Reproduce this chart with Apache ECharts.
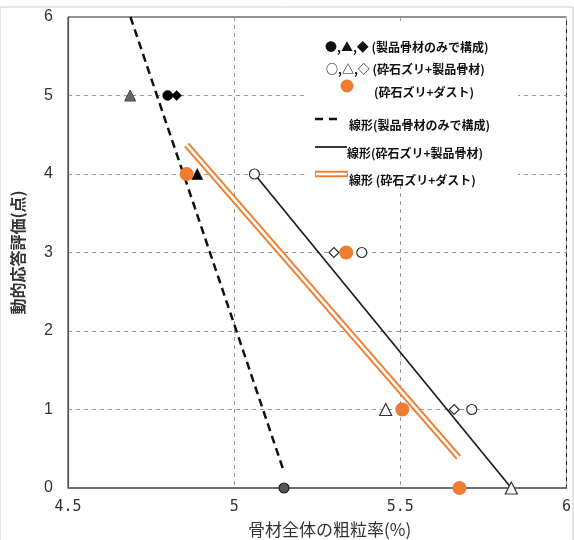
<!DOCTYPE html>
<html><head><meta charset="utf-8">
<script src="https://cdn.jsdelivr.net/npm/echarts@6/dist/echarts.min.js"></script>
<style>html,body{margin:0;padding:0;background:#fff}#c{width:574px;height:540px}</style>
</head><body><div id="c"></div>
<script>
// ---- data (x: 骨材全体の粗粒率 %, y: 動的応答評価 点) ----
const xTicks = [4.5, 5, 5.5, 6];
const yTicks = [0, 1, 2, 3, 4, 5, 6];
// 製品骨材のみで構成 (filled)
const prodCircle = [[4.80, 5]];
const prodDiamond = [[4.827, 5]];
const prodTriangle = [[4.889, 4]];
const prodTriangleGray = [[4.687, 5]];
const prodCircleGray = [[5.150, 0]];
// 砕石ズリ+製品骨材 (open)
const mixCircle = [[5.061, 4], [5.384, 3], [5.715, 1]];
const mixDiamond = [[5.300, 3], [5.662, 1]];
const mixTriangle = [[5.456, 1], [5.834, 0]];
// 砕石ズリ+ダスト (orange)
const dustDots = [[4.857, 4], [5.337, 3], [5.506, 1], [5.678, 0]];
// linear fits
const fitProduct = [[4.688, 6], [5.148, 0.23]];
const fitMix = [[5.061, 4], [5.834, 0]];
const fitDust = [[4.857, 4.37], [5.675, 0.39]];

const legendRows = [
  '●,▲,◆ (製品骨材のみで構成)',
  '○,△,◇ (砕石ズリ+製品骨材)',
  '(砕石ズリ+ダスト)',
  '線形(製品骨材のみで構成)',
  '線形(砕石ズリ+製品骨材)',
  '線形 (砕石ズリ+ダスト)'
];
const xTitle = '骨材全体の粗粒率(%)';
const yTitle = '動的応答評価(点)';

const ORANGE = '#ED7D31';
const chart = echarts.init(document.getElementById('c'), null, {renderer: 'canvas'});
const jp = '"Noto Sans CJK JP", sans-serif';

function scatter(data, symbol, size, fill, border, bw) {
  return {type: 'scatter', data, symbol, symbolSize: size, z: 6,
    itemStyle: {color: fill, borderColor: border, borderWidth: bw, opacity: 1}, silent: true};
}
function line(data, color, width, type, z) {
  return {type: 'line', data, showSymbol: false, symbol: 'none', z, silent: true,
    lineStyle: {color, width, type, cap: 'butt'}};
}

const legendText = (txt, x, y) => ({type: 'text', z: 101, left: x, top: y,
  style: {text: txt, font: 'bold 12px ' + jp, fill: '#111', textVerticalAlign: 'middle'}});

chart.setOption({
  animation: false,
  grid: {left: 68, right: 3, top: 17, bottom: 52, show: true, borderColor: '#222', borderWidth: 1, backgroundColor: 'transparent'},
  xAxis: {type: 'value', min: xTicks[0], max: xTicks[xTicks.length - 1], interval: 0.5,
    axisLine: {show: true, onZero: false, lineStyle: {color: '#666', width: 1.6}},
    axisTick: {show: false},
    axisLabel: {margin: 12, color: '#333', fontSize: 15, fontFamily: '"DejaVu Sans Mono", monospace',
      formatter: v => (Number.isInteger(v) ? String(v) : v.toFixed(1))},
    splitLine: {show: true, lineStyle: {color: '#999', type: [4, 4], width: 1}}
  },
  yAxis: {type: 'value', min: yTicks[0], max: yTicks[yTicks.length - 1], interval: 1,
    axisLine: {show: true, lineStyle: {color: '#555', width: 1.2}},
    axisTick: {show: false},
    axisLabel: {margin: 15, color: '#333', fontSize: 16, fontFamily: '"Liberation Sans", Arial, sans-serif'},
    splitLine: {show: true, lineStyle: {color: '#999', type: [4, 4], width: 1}},
    name: yTitle, nameLocation: 'middle', nameRotate: 90, nameGap: 42,
    nameTextStyle: {fontSize: 16, fontFamily: jp, fontWeight: 'bold', color: '#333'}
  },
  series: [
    line(fitProduct, '#111', 2.5, [8, 5], 3),
    line(fitMix, '#222', 1.8, 'solid', 3),
    line(fitDust, ORANGE, 6.5, 'solid', 3),
    line(fitDust, '#ffffff', 2.6, 'solid', 4),
    scatter(prodCircle, 'circle', 10, '#000', '#000', 0.5),
    scatter(prodDiamond, 'diamond', 10, '#000', '#000', 0.5),
    scatter(prodTriangle, 'triangle', 11, '#000', '#000', 0.5),
    scatter(prodTriangleGray, 'triangle', 11, '#666', '#444', 1),
    scatter(prodCircleGray, 'circle', 10, '#555', '#222', 1.2),
    scatter(mixCircle, 'circle', 10, '#fff', '#333', 1.2),
    scatter(mixDiamond, 'diamond', 10, '#fff', '#333', 1.2),
    scatter(mixTriangle, 'triangle', 12, '#fff', '#333', 1.2),
    scatter(dustDots, 'circle', 14, ORANGE, ORANGE, 0)
  ],
  graphic: [
    {type: 'rect', z: -1, shape: {x: 0, y: 7, width: 573, height: 540}, style: {fill: 'none', stroke: '#ccc', lineWidth: 1}},
    {type: 'rect', z: 100, shape: {x: 306, y: 25, width: 212, height: 160}, style: {fill: '#fff'}},
    legendText(legendRows[0], 325, 41),
    legendText(legendRows[1], 326, 63),
    {type: 'circle', z: 101, shape: {cx: 347, cy: 86, r: 6.5}, style: {fill: ORANGE}},
    legendText(legendRows[2], 374, 86),
    {type: 'line', z: 101, shape: {x1: 315, y1: 119, x2: 342, y2: 119}, style: {stroke: '#111', lineWidth: 2.5, lineDash: [8, 6]}},
    legendText(legendRows[3], 349, 119),
    {type: 'line', z: 101, shape: {x1: 315, y1: 147, x2: 347, y2: 147}, style: {stroke: '#222', lineWidth: 1.8}},
    legendText(legendRows[4], 347, 147),
    {type: 'line', z: 101, shape: {x1: 315, y1: 174, x2: 348, y2: 174}, style: {stroke: ORANGE, lineWidth: 6.5}},
    {type: 'line', z: 102, shape: {x1: 316, y1: 174, x2: 347, y2: 174}, style: {stroke: '#fff', lineWidth: 2.6}},
    legendText(legendRows[5], 349, 174),
    {type: 'text', z: 101, left: 248, top: 521, style: {text: xTitle, font: '17px ' + jp, fill: '#333'}}
  ]
});
</script></body></html>
